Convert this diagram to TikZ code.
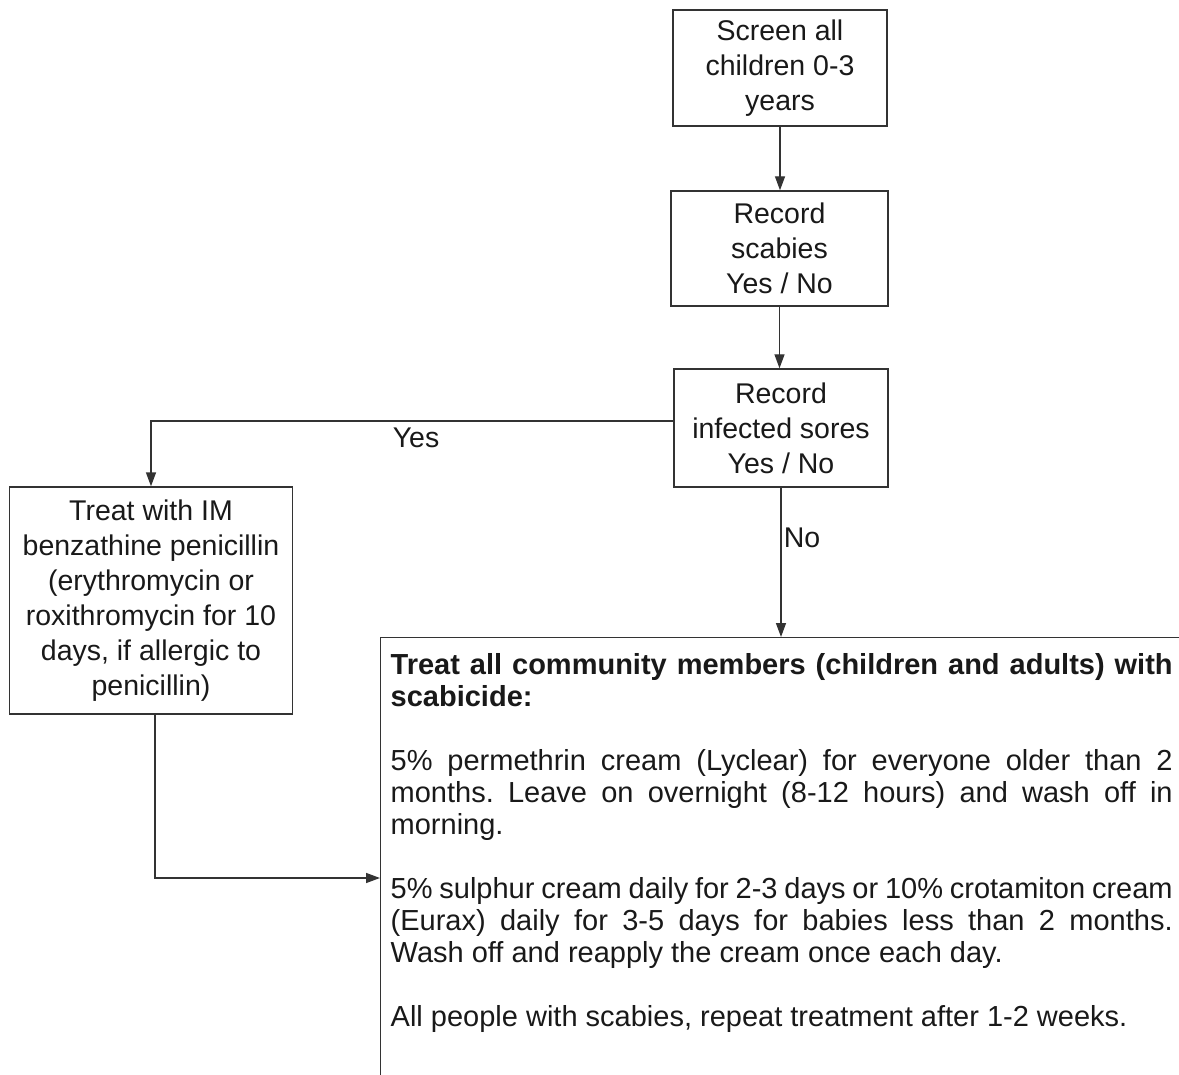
\documentclass[tikz,border=0pt]{standalone}
\usepackage{fontspec}
\setmainfont{Liberation Sans}
\usetikzlibrary{arrows.meta,positioning}

\begin{document}
\frenchspacing
\begin{tikzpicture}[
    x=0.5pt,y=-0.5pt,
    >={Triangle[length=7pt,width=5pt]},
    line width=0.7pt,
    flowbox/.style={
        draw=black!80, line width=0.7pt,
        rectangle,
        inner sep=0pt,
        align=center,
        font=\fontsize{14.25pt}{17.5pt}\selectfont,
        text=black!90
    },
    bigbox/.style={
        draw=black!80, line width=0.7pt,
        rectangle,
        anchor=north west,
        inner xsep=5pt, inner ysep=8pt,
        font=\fontsize{14.5pt}{16pt}\selectfont,
        text=black!90
    },
    lbl/.style={
        inner sep=1pt,
        font=\fontsize{14.25pt}{17.5pt}\selectfont,
        text=black!90
    },
    arr/.style={->, draw=black!80}
]
\useasboundingbox (0,0) rectangle (1179,1075);
\clip (0,0) rectangle (1179,1075);

% ====== boxes on the right ======
\node[flowbox, minimum width=107pt, minimum height=58pt] (screen) at (780,68) {Screen all\\children 0-3\\years};
\node[flowbox, minimum width=108.5pt, minimum height=57.5pt] (scabies) at (779.5,248.5) {Record\\scabies\\Yes / No};
\node[flowbox, minimum width=107pt, minimum height=59pt] (sores) at (781,428) {Record\\infected sores\\Yes / No};

% ====== box on the left ======
\node[flowbox, minimum width=141.5pt, minimum height=113.5pt] (penicillin) at (151,600.5) {Treat with IM\\benzathine penicillin\\(erythromycin or\\roxithromycin for 10\\days, if allergic to\\penicillin)};

% ====== big box at the bottom ======
\node[bigbox] (treatall) at (380,637) {\begin{minipage}[t][300pt][t]{391pt}
\setlength{\parskip}{16pt}\setlength{\parindent}{0pt}%
{\bfseries Treat all community members (children and adults) with scabicide:}\par
5\% permethrin cream (Lyclear) for everyone older than 2 months. Leave on overnight (8-12 hours) and wash off in morning.\par
5\% sulphur cream daily for 2-3 days or 10\% crotamiton cream (Eurax) daily for 3-5 days for babies less than 2 months.\linebreak Wash off and reapply the cream once each day.\par
All people with scabies, repeat treatment after 1-2 weeks.
\end{minipage}};

\coordinate (join) at (380,878);

% ====== labels ======
\node[lbl] (yes) at (416,438) {Yes};
\node[lbl] (no) at (802,538) {No};

% ====== connectors ======
\draw[arr] (screen.south) -- (screen.south |- scabies.north);
\draw[arr] (scabies.south) -- (scabies.south |- sores.north);
\draw[arr] ([yshift=3.5pt]sores.west) -| (penicillin.north);
\draw[arr] (sores.south) -- (sores.south |- treatall.north);
\draw[arr] ([xshift=2pt]penicillin.south) |- (join);

\end{tikzpicture}
\end{document}
